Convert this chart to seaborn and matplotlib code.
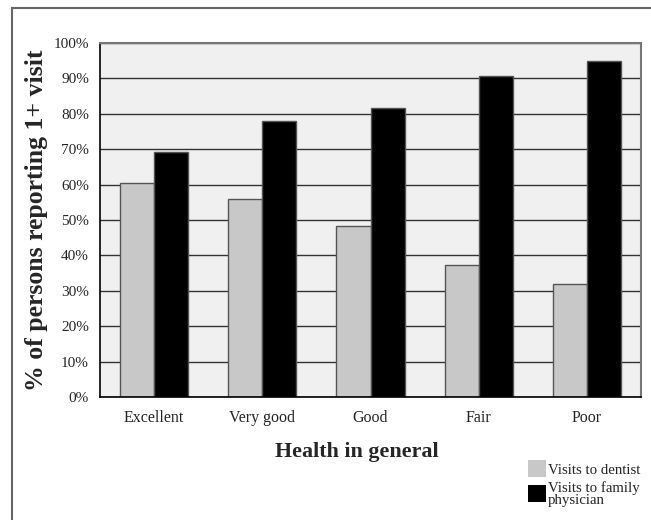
import matplotlib
matplotlib.use("Agg")
import matplotlib.pyplot as plt
from matplotlib.patches import Patch, Rectangle
import seaborn as sns
import pandas as pd

categories = ["Excellent", "Very good", "Good", "Fair", "Poor"]
dentist = [60.5, 56.0, 48.3, 37.3, 31.8]
physician = [69.2, 78.0, 81.6, 90.8, 95.0]
series_names = ["Visits to dentist", "Visits to family\nphysician"]
y_ticks = list(range(0, 101, 10))
y_tick_labels = [f"{v}%" for v in y_ticks]

df = pd.DataFrame({
    "Health": categories * 2,
    "Percent": dentist + physician,
    "Series": [series_names[0]] * len(categories) + [series_names[1]] * len(categories),
})

sns.set_theme(style="white")
plt.rcParams["font.family"] = ["Liberation Serif", "DejaVu Serif"]

fig = plt.figure(figsize=(6.51, 5.20), dpi=100)
ax = fig.add_axes([100 / 651, 1 - 397 / 520, 541 / 651, 354 / 520])
ax.set_facecolor("#f0f0f0")

palette = {series_names[0]: "#c8c8c8", series_names[1]: "#000000"}
sns.barplot(data=df, x="Health", y="Percent", hue="Series", palette=palette,
            order=categories, hue_order=series_names, width=0.63, gap=0,
            edgecolor="#555555", linewidth=1, saturation=1, legend=False, ax=ax)

ax.set_ylim(0, 100)
ax.set_xlim(-0.5, len(categories) - 0.5)
ax.set_yticks(y_ticks)
ax.set_yticklabels(y_tick_labels, fontsize=11)
ax.tick_params(axis="x", labelsize=11.5, length=0, pad=9)
ax.tick_params(axis="y", length=0, pad=8)
ax.yaxis.grid(True, color="#333333", linewidth=1)
ax.set_axisbelow(True)
ax.set_xlabel("")
ax.set_ylabel("")

for side in ["top", "right"]:
    ax.spines[side].set_color("#777777")
    ax.spines[side].set_linewidth(1.5)
for side in ["left", "bottom"]:
    ax.spines[side].set_color("#000000")
    ax.spines[side].set_linewidth(1.2)

fig.text(37 / 651, 1 - 220 / 520, "% of persons reporting 1+ visit",
         rotation=90, ha="center", va="center", fontsize=18.5, fontweight="bold")
fig.text(357 / 651, 1 - 452 / 520, "Health in general",
         ha="center", va="center", fontsize=15.8, fontweight="bold")

handles = [Patch(facecolor=palette[s], edgecolor="none") for s in series_names]
leg = fig.legend(handles, series_names, loc="upper left",
                 bbox_to_anchor=(518 / 651, 1 - 450 / 520), frameon=False,
                 fontsize=10.7, handlelength=1.2, handleheight=1.35,
                 handletextpad=0.1, labelspacing=0.25, borderpad=0.2)
for t in leg.get_texts():
    t.set_linespacing(0.92)

# outer frame around the figure
fig.add_artist(Rectangle((12 / 651, -0.05), 1.0, 1 - 8 / 520 + 0.05,
                         transform=fig.transFigure, fill=False,
                         edgecolor="#666666", linewidth=1.5))

fig.savefig("out.png", dpi=100)
